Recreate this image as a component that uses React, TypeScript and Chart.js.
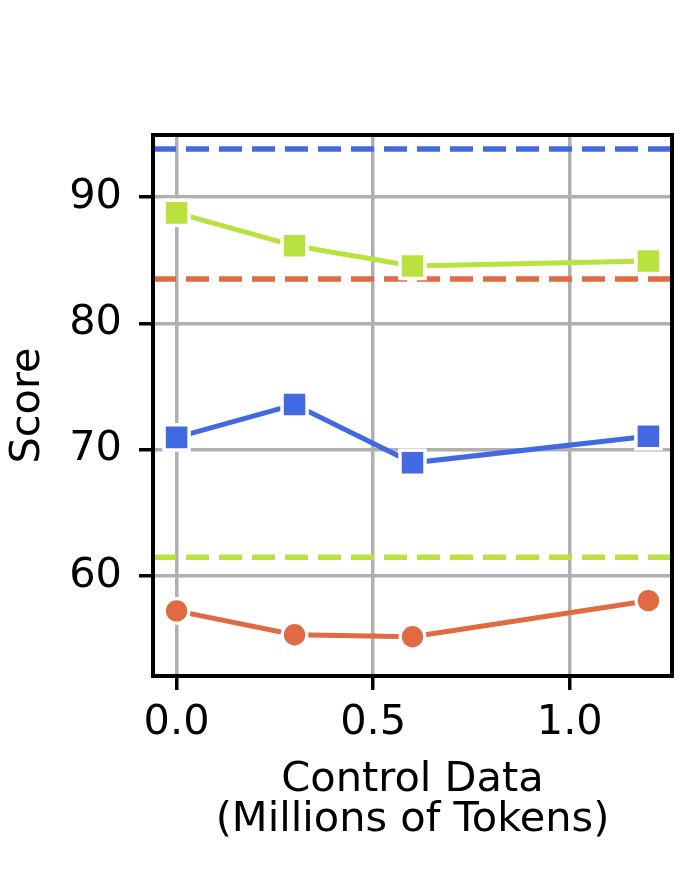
import React, { useEffect, useRef } from "react";
import { Chart, registerables } from "chart.js";

Chart.register(...registerables);

// Amount of control data (millions of tokens) on the x axis
const controlTokens = [0, 0.3, 0.6, 1.2];

// Scores per series
const greenScores = [88.76, 86.15, 84.55, 84.94];
const blueScores = [70.97, 73.57, 68.95, 71.05];
const orangeScores = [57.22, 55.33, 55.17, 58.03];

// Reference (dashed) levels
const blueBaseline = 93.82;
const orangeBaseline = 83.52;
const greenBaseline = 61.47;

// Axes
const xTicks = [0, 0.5, 1.0];
const yTicks = [60, 70, 80, 90];
const xRange = [-0.06, 1.26];
const yRange = [52.06, 94.93];

const BLUE = "#4169E1";
const ORANGE = "#E06B43";
const GREEN = "#B9E23E";
const GRID = "#B0B0B0";
const FONT = "'DejaVu Sans', sans-serif";
const FONT_SIZE = 41.5;

const framePlugin = {
  id: "frame",
  afterDatasetsDraw(chart: any) {
    const { ctx, chartArea: a } = chart;
    ctx.save();
    ctx.strokeStyle = "#000";
    ctx.lineWidth = 4;
    ctx.lineJoin = "miter";
    ctx.strokeRect(a.left, a.top, a.right - a.left, a.bottom - a.top);
    ctx.restore();
  },
};

function series(ys: number[], color: string, style: string, radius: number, bw: number) {
  return {
    data: controlTokens.map((x, i) => ({ x, y: ys[i] })),
    showLine: true,
    borderColor: color,
    backgroundColor: color,
    borderWidth: 5,
    pointStyle: style,
    pointRadius: radius,
    pointBackgroundColor: color,
    pointBorderColor: "#ffffff",
    pointBorderWidth: bw,
    tension: 0,
  };
}

function baseline(y: number, color: string) {
  return {
    data: [
      { x: xRange[0], y },
      { x: xRange[1], y },
    ],
    showLine: true,
    borderColor: color,
    borderWidth: 5.5,
    borderDash: [23, 10],
    pointRadius: 0,
  };
}

export default function App() {
  const canvasRef = useRef<HTMLCanvasElement | null>(null);

  useEffect(() => {
    if (!canvasRef.current) return;
    const chart = new Chart(canvasRef.current, {
      type: "scatter",
      data: {
        datasets: [
          series(greenScores, GREEN, "rect", 17.7, 3.5),
          series(blueScores, BLUE, "rect", 17.7, 3.5),
          series(orangeScores, ORANGE, "circle", 12.3, 3.2),
          baseline(blueBaseline, BLUE),
          baseline(orangeBaseline, ORANGE),
          baseline(greenBaseline, GREEN),
        ] as any,
      },
      options: {
        responsive: false,
        animation: false,
        events: [],
        layout: { padding: { top: 135, right: 28, bottom: 0, left: 0 } },
        plugins: {
          legend: { display: false },
          tooltip: { enabled: false },
        },
        scales: {
          x: {
            type: "linear",
            min: xRange[0],
            max: xRange[1],
            afterFit: (scale: any) => {
              scale.height = 880 - 676;
            },
            afterBuildTicks: (scale: any) => {
              scale.ticks = xTicks.map((value) => ({ value }));
            },
            border: { display: false },
            grid: {
              color: GRID,
              lineWidth: 3.5,
              drawTicks: true,
              tickLength: 14,
              tickColor: "#000",
              tickWidth: 3.5,
            },
            ticks: {
              padding: 8,
              color: "#000",
              font: { family: FONT, size: FONT_SIZE, lineHeight: 1.2 },
              callback: (v: any) => Number(v).toFixed(1),
            },
            title: {
              display: true,
              text: ["Control Data", "(Millions of Tokens)"],
              color: "#000",
              font: { family: FONT, size: FONT_SIZE, lineHeight: 40 / FONT_SIZE },
              padding: { top: 0, bottom: 40 },
            },
          },
          y: {
            type: "linear",
            min: yRange[0],
            max: yRange[1],
            afterFit: (scale: any) => {
              scale.width = 153;
            },
            afterBuildTicks: (scale: any) => {
              scale.ticks = yTicks.map((value) => ({ value }));
            },
            border: { display: false },
            grid: {
              color: GRID,
              lineWidth: 3.5,
              drawTicks: true,
              tickLength: 14,
              tickColor: "#000",
              tickWidth: 3.5,
            },
            ticks: {
              padding: 17,
              color: "#000",
              font: { family: FONT, size: FONT_SIZE, lineHeight: 1.2 },
              callback: (v: any) => String(v),
            },
            title: {
              display: true,
              text: "Score",
              color: "#000",
              font: { family: FONT, size: FONT_SIZE, lineHeight: 1.2 },
              padding: { top: 3, bottom: 0 },
            },
          },
        },
      } as any,
      plugins: [framePlugin],
    });
    return () => chart.destroy();
  }, []);

  return (
    <div style={{ position: "absolute", left: 0, top: 0, width: 700, height: 880, background: "#fff" }}>
      <canvas ref={canvasRef} width={700} height={880} style={{ display: "block" }} />
    </div>
  );
}
